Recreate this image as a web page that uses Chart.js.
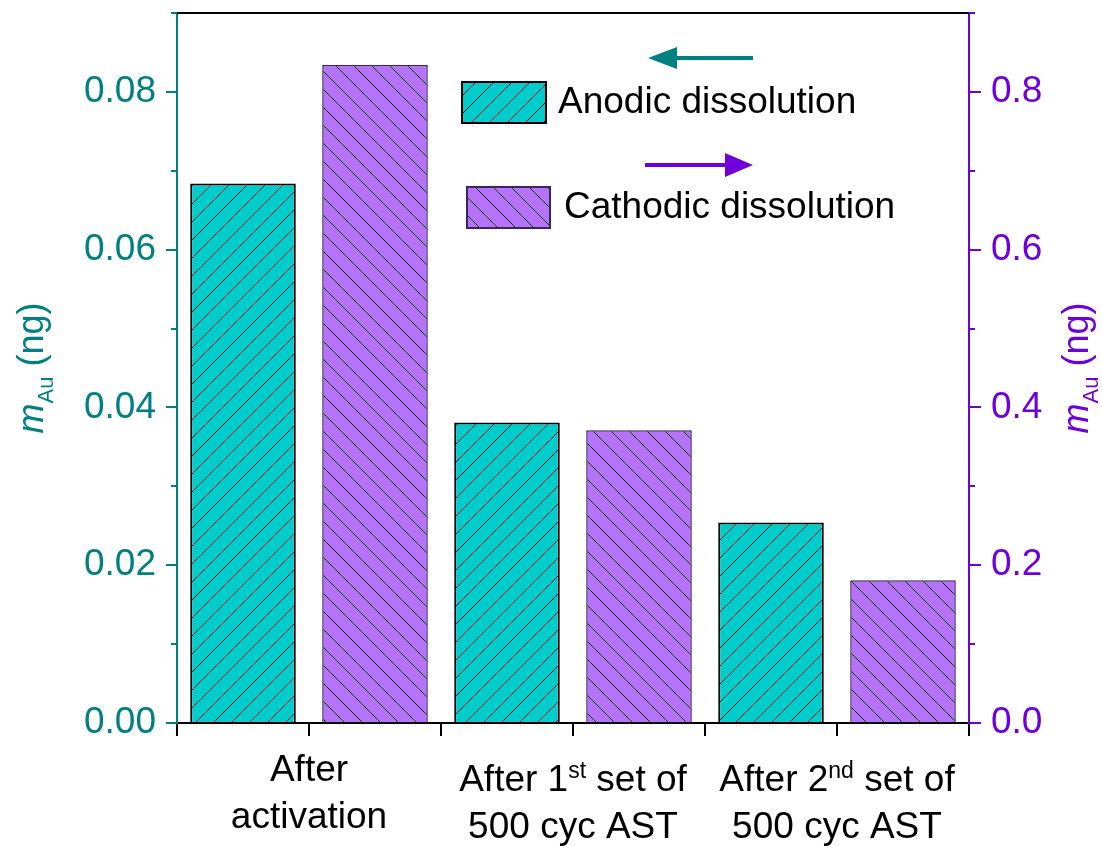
<!DOCTYPE html>
<html>
<head>
<meta charset="utf-8">
<script src="https://cdn.jsdelivr.net/npm/chart.js@4/dist/chart.umd.min.js"></script>
<style>
  html, body { margin: 0; padding: 0; background: #fff; }
  canvas { display: block; }
</style>
</head>
<body>
<canvas id="chart" width="1102" height="846"></canvas>
<script>
// Category labels, one entry per line; ^{...} marks superscript text
const categoryLines = [
  ['After', 'activation'],
  ['After 1^{st} set of', '500 cyc AST'],
  ['After 2^{nd} set of', '500 cyc AST']
];
// Dissolved gold mass (ng)
const anodicMass   = [0.0684, 0.0381, 0.0254];   // left axis
const cathodicMass = [0.834, 0.371, 0.181];      // right axis
const seriesNames  = ['Anodic dissolution', 'Cathodic dissolution'];
// Axis ranges and steps
const leftAxis  = { max: 0.09, major: 0.02, minor: 0.01, decimals: 2 };
const rightAxis = { max: 0.9,  major: 0.2,  minor: 0.1,  decimals: 1 };

const FONT = '"Liberation Sans", Arial, Helvetica, sans-serif';
const TEAL = '#008080';
const VIOLET = '#6F00DC';
const TEAL_FILL = '#00CCCC';
const VIOLET_FILL = '#B673FA';

function hatch(fill, rising) {
  const s = 18;
  const c = document.createElement('canvas');
  c.width = s; c.height = s;
  const g = c.getContext('2d');
  g.fillStyle = fill;
  g.fillRect(0, 0, s, s);
  g.strokeStyle = '#000';
  g.lineWidth = 1;
  g.beginPath();
  for (const o of [-s, 0, s]) {
    if (rising) { g.moveTo(o, s); g.lineTo(o + s, 0); }
    else { g.moveTo(o, 0); g.lineTo(o + s, s); }
  }
  g.stroke();
  return g.createPattern(c, 'repeat');
}

const anodicFill = hatch(TEAL_FILL, true);
const cathodicFill = hatch(VIOLET_FILL, false);

function parseRich(str) {
  const parts = [];
  const re = /\^\{(.*?)\}/g;
  let last = 0, m;
  while ((m = re.exec(str)) !== null) {
    if (m.index > last) parts.push({ text: str.slice(last, m.index), sup: false });
    parts.push({ text: m[1], sup: true });
    last = re.lastIndex;
  }
  if (last < str.length) parts.push({ text: str.slice(last), sup: false });
  return parts;
}

function drawSegments(ctx, segs, x, y) {
  // segs: [{text, font, dy}] drawn left to right, centred on x
  let total = 0;
  for (const s of segs) { ctx.font = s.font; total += ctx.measureText(s.text).width; }
  let cx = x - total / 2;
  ctx.textAlign = 'left';
  ctx.textBaseline = 'alphabetic';
  for (const s of segs) {
    ctx.font = s.font;
    ctx.fillText(s.text, cx, y + (s.dy || 0));
    cx += ctx.measureText(s.text).width;
  }
}

function drawArrow(ctx, color, fromX, toX, y, headLen, headHalf) {
  const dir = Math.sign(toX - fromX);
  ctx.save();
  ctx.strokeStyle = color;
  ctx.fillStyle = color;
  ctx.lineWidth = 4;
  ctx.beginPath();
  ctx.moveTo(fromX, y);
  ctx.lineTo(toX - dir * headLen * 0.8, y);
  ctx.stroke();
  ctx.beginPath();
  ctx.moveTo(toX, y);
  ctx.lineTo(toX - dir * headLen, y - headHalf);
  ctx.lineTo(toX - dir * headLen, y + headHalf);
  ctx.closePath();
  ctx.fill();
  ctx.restore();
}

const decorations = {
  id: 'decorations',
  afterDraw(chart) {
    const ctx = chart.ctx;
    const area = chart.chartArea;
    const xs = chart.scales.x, yl = chart.scales.y, yr = chart.scales.y1;
    ctx.save();

    // top frame line
    ctx.strokeStyle = '#000';
    ctx.lineWidth = 2;
    ctx.beginPath();
    ctx.moveTo(area.left, area.top);
    ctx.lineTo(area.right, area.top);
    ctx.stroke();

    // minor ticks on both value axes
    ctx.lineWidth = 2;
    ctx.strokeStyle = TEAL;
    for (let v = leftAxis.minor; v <= leftAxis.max + 1e-9; v += leftAxis.major) {
      const py = Math.round(yl.getPixelForValue(v));
      ctx.beginPath(); ctx.moveTo(area.left - 6, py); ctx.lineTo(area.left, py); ctx.stroke();
    }
    ctx.strokeStyle = VIOLET;
    for (let v = rightAxis.minor; v <= rightAxis.max + 1e-9; v += rightAxis.major) {
      const py = Math.round(yr.getPixelForValue(v));
      ctx.beginPath(); ctx.moveTo(area.right, py); ctx.lineTo(area.right + 6, py); ctx.stroke();
    }

    // ticks at category centres
    ctx.strokeStyle = '#000';
    categoryLines.forEach((_, i) => {
      const px = Math.round(xs.getPixelForValue(i));
      ctx.beginPath(); ctx.moveTo(px, area.bottom); ctx.lineTo(px, area.bottom + 13); ctx.stroke();
    });

    // category labels with superscripts
    ctx.fillStyle = '#000';
    categoryLines.forEach((lines, i) => {
      const px = xs.getPixelForValue(i);
      const hasSup = lines.some(l => l.includes('^{'));
      const base = area.bottom + (hasSup ? 68 : 58);
      lines.forEach((line, k) => {
        const segs = parseRich(line).map(p => ({
          text: p.text,
          font: p.sup ? `23px ${FONT}` : `37px ${FONT}`,
          dy: p.sup ? -13 : 0
        }));
        drawSegments(ctx, segs, px, base + k * 47);
      });
    });

    // axis titles: m_Au (ng), rotated
    const midY = (area.top + area.bottom) / 2;
    const title = [
      { text: 'm', font: `italic 36px ${FONT}`, dy: 0 },
      { text: 'Au', font: `22px ${FONT}`, dy: 10 },
      { text: ' (ng)', font: `36px ${FONT}`, dy: 0 }
    ];
    [[43, TEAL], [1088, VIOLET]].forEach(([bx, col]) => {
      ctx.save();
      ctx.translate(bx, midY);
      ctx.rotate(-Math.PI / 2);
      ctx.fillStyle = col;
      drawSegments(ctx, title, 0, 0);
      ctx.restore();
    });

    // legend with direction arrows
    drawArrow(ctx, TEAL, 753, 648, 58, 29, 11);
    drawArrow(ctx, VIOLET, 645, 753, 165, 28, 12);
    const entries = [
      { fill: anodicFill, border: '#000', box: [462, 82, 84, 41], tx: 558, ty: 113 },
      { fill: cathodicFill, border: '#3d2360', box: [467, 187, 83, 41], tx: 564, ty: 218 }
    ];
    entries.forEach((e, i) => {
      const [bx, by, bw, bh] = e.box;
      ctx.fillStyle = e.fill;
      ctx.fillRect(bx, by, bw, bh);
      ctx.strokeStyle = e.border;
      ctx.lineWidth = 2;
      ctx.strokeRect(bx, by, bw, bh);
      ctx.fillStyle = '#000';
      ctx.font = `37px ${FONT}`;
      ctx.textAlign = 'left';
      ctx.textBaseline = 'alphabetic';
      ctx.fillText(seriesNames[i], e.tx, e.ty);
    });

    ctx.restore();
  }
};

new Chart(document.getElementById('chart'), {
  type: 'bar',
  data: {
    labels: categoryLines.map(l => l.join(' ').replace(/\^\{(.*?)\}/g, '$1')),
    datasets: [
      {
        label: seriesNames[0],
        data: anodicMass,
        yAxisID: 'y',
        backgroundColor: anodicFill,
        borderColor: '#000',
        borderWidth: 2
      },
      {
        label: seriesNames[1],
        data: cathodicMass,
        yAxisID: 'y1',
        backgroundColor: cathodicFill,
        borderColor: '#3d2360',
        borderWidth: 1.5
      }
    ]
  },
  options: {
    responsive: false,
    animation: false,
    devicePixelRatio: 1,
    layout: { padding: { top: 13, left: 0, right: 0, bottom: 0 } },
    categoryPercentage: 1.0,
    barPercentage: 0.8,
    plugins: { legend: { display: false }, tooltip: { enabled: false } },
    scales: {
      x: {
        type: 'category',
        offset: true,
        ticks: { display: false },
        grid: { offset: true, drawOnChartArea: false, tickLength: 13, color: '#000', lineWidth: 2 },
        border: { color: '#000', width: 2 },
        afterFit(s) { s.height = 123; s.paddingLeft = 0; s.paddingRight = 0; }
      },
      y: {
        position: 'left',
        min: 0,
        max: leftAxis.max,
        ticks: {
          stepSize: leftAxis.major,
          includeBounds: false,
          color: TEAL,
          padding: 10,
          font: { family: FONT, size: 37 },
          callback: v => Number(v).toFixed(leftAxis.decimals)
        },
        grid: { drawOnChartArea: false, tickLength: 11, color: TEAL, lineWidth: 2 },
        border: { color: TEAL, width: 2 },
        afterFit(s) { s.width = 177; s.paddingTop = 0; s.paddingBottom = 0; }
      },
      y1: {
        position: 'right',
        min: 0,
        max: rightAxis.max,
        ticks: {
          stepSize: rightAxis.major,
          includeBounds: false,
          color: VIOLET,
          padding: 10,
          font: { family: FONT, size: 37 },
          callback: v => Number(v).toFixed(rightAxis.decimals)
        },
        grid: { drawOnChartArea: false, tickLength: 12, color: VIOLET, lineWidth: 2 },
        border: { color: VIOLET, width: 2 },
        afterFit(s) { s.width = 133; s.paddingTop = 0; s.paddingBottom = 0; }
      }
    }
  },
  plugins: [decorations]
});
</script>
</body>
</html>
